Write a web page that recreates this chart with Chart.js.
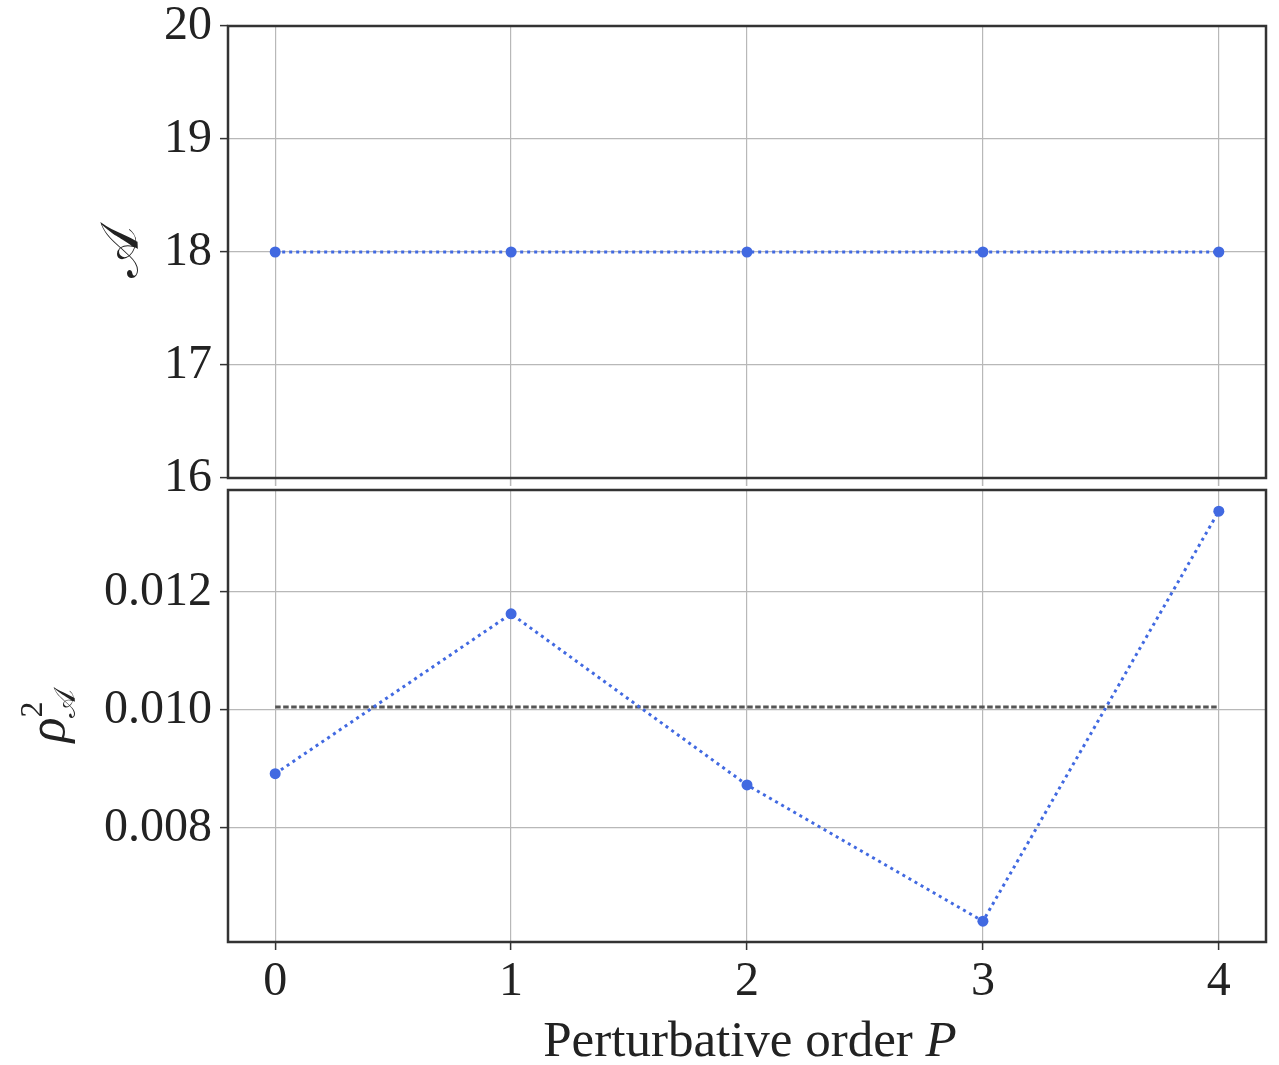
<!DOCTYPE html>
<html>
<head>
<meta charset="utf-8">
<script src="https://cdn.jsdelivr.net/npm/chart.js@4/dist/chart.umd.min.js"></script>
<style>
  body { margin: 0; background: #fff; }
  #wrap { position: relative; width: 1279px; height: 1065px; }
  canvas { position: absolute; left: 0; top: 0; }
</style>
</head>
<body>
<div id="wrap">
  <canvas id="top" width="1279" height="1065"></canvas>
  <canvas id="bottom" width="1279" height="1065"></canvas>
</div>
<script>
const orders = [0, 1, 2, 3, 4];
const amplitude = [18, 18, 18, 18, 18];
const rho2 = [0.00892, 0.01163, 0.00873, 0.00642, 0.01337];
const threshold = 0.01005;
const topTicks = [16, 17, 18, 19, 20];
const bottomTicks = [0.008, 0.010, 0.012];

const FONT = "'Liberation Serif', 'DejaVu Serif', serif";
const MATH = "'DejaVu Serif', 'DejaVu Sans', 'Liberation Serif', serif";
const BLUE = "#4169e1";
const GRID = "#b8b8b8";

const frame = {
  id: "frame",
  afterDraw(chart) {
    const { ctx, chartArea: a } = chart;
    ctx.save();
    ctx.strokeStyle = "#333";
    ctx.lineWidth = 2.5;
    ctx.strokeRect(a.left, a.top, a.right - a.left, a.bottom - a.top);
    ctx.restore();
  }
};

// draws a row of text pieces, pieces with "stack" share the x of the previous one
function drawRuns(ctx, runs, cx, cy, angle) {
  ctx.save();
  ctx.translate(cx, cy);
  ctx.rotate(angle);
  ctx.fillStyle = "#222";
  ctx.textBaseline = "alphabetic";
  let w = 0, last = 0;
  runs.forEach(r => {
    ctx.font = r.font;
    const m = ctx.measureText(r.text).width;
    if (r.stack) { w = w - last + Math.max(last, m); last = Math.max(last, m); }
    else { w += m; last = m; }
  });
  let x = -w / 2, prevX = x;
  runs.forEach(r => {
    ctx.font = r.font;
    const m = ctx.measureText(r.text).width;
    const px = r.stack ? prevX : x;
    ctx.fillText(r.text, px, r.dy || 0);
    if (!r.stack) { prevX = x; x += m; }
  });
  ctx.restore();
}

const labels = {
  id: "labels",
  afterDraw(chart) {
    const ctx = chart.ctx;
    drawRuns(ctx, [
      { text: "Perturbative order ", font: "51px " + FONT },
      { text: "P", font: "italic 51px " + FONT }
    ], 750, 1056, 0);
    drawRuns(ctx, [
      { text: "\u03c1", font: "italic 52px " + FONT, dy: 0 },
      { text: "2", font: "32px " + FONT, dy: -22 },
      { text: "\ud835\udc9c", font: "30px " + MATH, dy: 11, stack: true }
    ], 64, 716, -Math.PI / 2);
  }
};

function xScale(showLabels, tickColor, fitHeight) {
  return {
    type: "linear",
    min: -0.2,
    max: 4.2,
    afterBuildTicks: s => { s.ticks = orders.map(v => ({ value: v })); },
    afterFit: s => { s.height = fitHeight; },
    grid: { color: GRID, lineWidth: 1.2, tickLength: 8, tickColor: tickColor, tickWidth: 1.5 },
    border: { display: false },
    ticks: {
      display: showLabels,
      color: "#222",
      padding: 4,
      maxRotation: 0,
      font: { family: FONT, size: 48 },
      callback: v => String(v)
    }
  };
}

function fitY(s) {
  s.width = 228;
  s.paddingTop = 0;
  s.paddingBottom = 0;
}

new Chart(document.getElementById("top"), {
  type: "line",
  data: {
    datasets: [{
      data: orders.map((p, i) => ({ x: p, y: amplitude[i] })),
      borderColor: BLUE,
      backgroundColor: BLUE,
      borderWidth: 3,
      borderDash: [3, 4],
      pointRadius: 5.5,
      pointBorderWidth: 0,
      tension: 0
    }]
  },
  options: {
    responsive: false,
    animation: false,
    layout: { padding: { left: 0, top: 26, right: 13, bottom: 587 } },
    plugins: { legend: { display: false }, tooltip: { enabled: false } },
    scales: {
      x: xScale(false, GRID, 0),
      y: {
        min: 16,
        max: 20,
        afterBuildTicks: s => { s.ticks = topTicks.map(v => ({ value: v })); },
        afterFit: fitY,
        grid: { color: GRID, lineWidth: 1.2, tickLength: 8, tickColor: "#333", tickWidth: 1.5 },
        border: { display: false },
        title: {
          display: true,
          text: "\ud835\udc9c",
          color: "#222",
          font: { family: MATH, size: 54 },
          padding: { top: 92, bottom: 0 }
        },
        ticks: {
          color: "#222",
          padding: 8,
          font: { family: FONT, size: 48 },
          callback: v => String(v)
        }
      }
    }
  },
  plugins: [frame]
});

new Chart(document.getElementById("bottom"), {
  type: "line",
  data: {
    datasets: [{
      data: orders.map((p, i) => ({ x: p, y: rho2[i] })),
      borderColor: BLUE,
      backgroundColor: BLUE,
      borderWidth: 3,
      borderDash: [3, 4],
      pointRadius: 5.5,
      pointBorderWidth: 0,
      tension: 0
    }, {
      data: [{ x: orders[0], y: threshold }, { x: orders[orders.length - 1], y: threshold }],
      borderColor: "#555",
      borderWidth: 3,
      borderDash: [5.5, 2.5],
      pointRadius: 0
    }]
  },
  options: {
    responsive: false,
    animation: false,
    layout: { padding: { left: 0, top: 490, right: 13, bottom: 0 } },
    plugins: { legend: { display: false }, tooltip: { enabled: false } },
    scales: {
      x: xScale(true, "#333", 123),
      y: {
        min: 0.006068,
        max: 0.013729,
        afterBuildTicks: s => { s.ticks = bottomTicks.map(v => ({ value: v })); },
        afterFit: fitY,
        grid: { color: GRID, lineWidth: 1.2, tickLength: 8, tickColor: "#333", tickWidth: 1.5 },
        border: { display: false },
        ticks: {
          color: "#222",
          padding: 8,
          font: { family: FONT, size: 48 },
          callback: v => v.toFixed(3)
        }
      }
    }
  },
  plugins: [frame, labels]
});
</script>
</body>
</html>
